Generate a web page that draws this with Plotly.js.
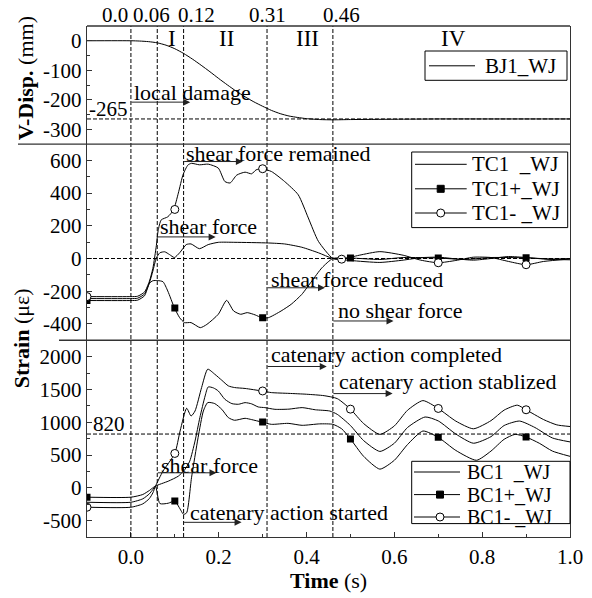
<!DOCTYPE html>
<html><head><meta charset="utf-8">
<script src="https://cdn.plot.ly/plotly-3.0.1.min.js"></script>
<style>html,body{margin:0;padding:0;background:#fff}#chart{width:592px;height:598px}</style>
</head><body><div id="chart"></div>
<script>
// ---------- data ----------
// Top panel: vertical displacement (mm)
const dispName = 'BJ1_WJ';
const dispX = [-0.1, 0.0, 0.02, 0.04, 0.06, 0.08, 0.10, 0.12, 0.14, 0.16, 0.18, 0.20, 0.22, 0.24, 0.26, 0.28, 0.30, 0.32, 0.34, 0.36, 0.38, 0.40, 0.43, 0.46, 0.50, 0.60, 0.70, 0.80, 0.90, 1.00];
const dispY = [0, 0, -1, -3, -7, -15, -27, -43, -62, -83, -105, -128, -150, -171, -190, -207, -222, -236, -247, -255, -260, -264, -267, -268, -267, -266, -265, -265, -265, -265];

// Middle panel: TC1 strains
const tcNames = ['TC1\u00a0\u00a0_WJ', 'TC1+_WJ', 'TC1-\u00a0_WJ'];
const tc1X = [-0.1, 0.0, 0.015, 0.031, 0.042, 0.05, 0.058, 0.066, 0.077, 0.088, 0.099, 0.111, 0.126, 0.137, 0.156, 0.176, 0.199, 0.237, 0.313, 0.35, 0.389, 0.427, 0.46, 0.5, 0.567, 0.62, 0.66, 0.70, 0.74, 0.78, 0.82, 0.86, 0.90, 0.95, 1.0];
const tc1Y = [-245, -245, -243, -217, -150, -77, 4, 35, 41, 24, 6, 35, 85, 89, 60, 85, 99, 99, 95, 89, 69, 35, 0, -12, -24, -10, 5, 8, -2, -10, 0, 12, 6, -5, -8];
const tc1pX = [-0.1, 0.0, 0.015, 0.031, 0.042, 0.05, 0.061, 0.073, 0.084, 0.099, 0.111, 0.122, 0.137, 0.158, 0.173, 0.199, 0.218, 0.234, 0.25, 0.265, 0.283, 0.298, 0.313, 0.342, 0.365, 0.389, 0.412, 0.435, 0.46, 0.5, 0.567, 0.62, 0.70, 0.76, 0.82, 0.90, 0.96, 1.0];
const tc1pY = [-257, -257, -255, -228, -152, -136, -135, -142, -199, -301, -362, -392, -392, -423, -403, -341, -256, -321, -341, -331, -345, -362, -362, -321, -280, -220, -138, -57, 0, 3, -6, 6, 3, -6, 6, 4, -3, 0];
const tc1mX = [-0.1, 0.0, 0.015, 0.031, 0.042, 0.05, 0.058, 0.062, 0.069, 0.084, 0.097, 0.108, 0.119, 0.13, 0.138, 0.156, 0.176, 0.199, 0.214, 0.226, 0.241, 0.26, 0.275, 0.285, 0.298, 0.32, 0.35, 0.381, 0.404, 0.427, 0.46, 0.48, 0.52, 0.567, 0.62, 0.66, 0.70, 0.74, 0.78, 0.82, 0.86, 0.90, 0.94, 1.0];
const tc1mY = [-233, -233, -231, -205, -140, -60, 80, 170, 236, 255, 297, 400, 515, 572, 582, 573, 577, 553, 471, 462, 510, 528, 518, 542, 549, 532, 471, 390, 248, 105, 0, -4, 20, 42, 20, -10, -26, -12, 8, 6, -18, -38, -18, -3];
const tc1pMarkX = [-0.1, 0.1, 0.3, 0.5, 0.7, 0.9];
const tc1pMarkY = [-257, -303, -362, 3, 3, 4];
const tc1mMarkX = [-0.1, 0.1, 0.3, 0.48, 0.7, 0.9];
const tc1mMarkY = [-233, 300, 549, -4, -26, -38];

// Bottom panel: BC1 strains
const bcNames = ['BC1\u00a0\u00a0_WJ', 'BC1+_WJ', 'BC1-\u00a0_WJ'];
const bc1X = [-0.1, 0.0, 0.027, 0.042, 0.05, 0.056, 0.085, 0.108, 0.123, 0.134, 0.146, 0.157, 0.169, 0.176, 0.188, 0.199, 0.214, 0.23, 0.245, 0.26, 0.275, 0.29, 0.305, 0.328, 0.36, 0.39, 0.42, 0.453, 0.47, 0.5, 0.53, 0.567, 0.6, 0.63, 0.67, 0.7, 0.74, 0.78, 0.82, 0.85, 0.885, 0.92, 0.96, 1.0];
const bc1Y = [-220, -220, -168, -92, -26, 25, 101, 178, 280, 407, 713, 1070, 1401, 1538, 1523, 1477, 1350, 1284, 1274, 1299, 1280, 1233, 1223, 1197, 1200, 1223, 1190, 1171, 1120, 950, 720, 555, 680, 920, 1080, 1020, 820, 680, 780, 950, 1018, 920, 760, 700];
const bc1pX = [-0.1, 0.0, 0.027, 0.042, 0.05, 0.056, 0.066, 0.085, 0.1, 0.11, 0.12, 0.127, 0.138, 0.153, 0.165, 0.175, 0.191, 0.207, 0.222, 0.236, 0.26, 0.275, 0.298, 0.32, 0.358, 0.39, 0.43, 0.46, 0.48, 0.5, 0.53, 0.567, 0.6, 0.63, 0.665, 0.7, 0.74, 0.787, 0.82, 0.85, 0.875, 0.9, 0.93, 0.96, 1.0];
const bc1pY = [-143, -143, -102, -41, 0, 25, -240, -235, -200, -300, -405, -380, 153, 765, 1171, 1300, 1284, 1197, 1070, 1030, 1060, 1040, 1003, 968, 983, 953, 975, 968, 900, 745, 480, 285, 420, 660, 866, 770, 570, 420, 560, 740, 815, 775, 680, 560, 480];
const bc1mX = [-0.1, 0.0, 0.027, 0.042, 0.05, 0.056, 0.073, 0.1, 0.112, 0.127, 0.137, 0.146, 0.161, 0.175, 0.191, 0.207, 0.222, 0.236, 0.26, 0.298, 0.32, 0.36, 0.4, 0.44, 0.47, 0.5, 0.53, 0.567, 0.6, 0.63, 0.665, 0.7, 0.74, 0.78, 0.82, 0.85, 0.88, 0.9, 0.94, 0.97, 1.0];
const bc1mY = [-296, -296, -245, -164, -76, 25, 254, 524, 866, 1213, 1095, 1171, 1529, 1809, 1732, 1640, 1554, 1529, 1515, 1477, 1452, 1440, 1427, 1405, 1360, 1200, 980, 815, 944, 1183, 1330, 1210, 1017, 900, 1024, 1185, 1260, 1190, 1040, 960, 935];
const bc1pMarkX = [-0.1, 0.1, 0.3, 0.5, 0.7, 0.9];
const bc1pMarkY = [-143, -200, 1003, 745, 770, 775];
const bc1mMarkX = [-0.1, 0.1, 0.3, 0.5, 0.7, 0.9];
const bc1mMarkY = [-296, 524, 1477, 1200, 1210, 1190];

// Phase boundaries, reference levels, tick labels
const phaseX = [0.0, 0.06, 0.12, 0.31, 0.46];
const phaseLabels = ['0.0', '0.06', '0.12', '0.31', '0.46', '1.0'];
const phaseLabelX = [-0.036, 0.048, 0.15, 0.312, 0.48, 1.012];
const stageNames = ['I', 'II', 'III', 'IV'];
const stageX = [0.094, 0.218, 0.403, 0.734];
const dispRef = -265;
const tcRef = 0;
const bcRef = 820;
const timeTicks = [0, 0.2, 0.4, 0.6, 0.8, 1.0];
const timeTickText = ['0.0', '0.2', '0.4', '0.6', '0.8', '1.0'];
const dispTicks = [-300, -200, -100, 0];
const dispTickText = ['-300', '-200', '-100', '0'];
const tcTicks = [-400, -200, 0, 200, 400, 600];
const tcTickText = ['-400', '-200', '0', '200', '400', '600'];
const bcTicks = [-500, 0, 500, 1000, 1500, 2000];
const bcTickText = ['-500', '0', '500', '1000', '1500', '2000'];

// ---------- drawing ----------
const FONT = 'Liberation Serif';
const lineStyle = {color: 'black', width: 1, shape: 'spline', smoothing: 0.6};
const sqMarker = {symbol: 'square', size: 7, color: 'black'};
const ciMarker = {symbol: 'circle', size: 8, color: 'white', line: {color: 'black', width: 1}};

function lineTr(x, y, ya, name) {
  return {x, y, name, xaxis: 'x', yaxis: ya, mode: 'lines', line: lineStyle, showlegend: false, hoverinfo: 'skip'};
}
function markTr(x, y, ya, m, name) {
  return {x, y, name, xaxis: 'x', yaxis: ya, mode: 'markers', marker: m, showlegend: false, hoverinfo: 'skip'};
}

const traces = [
  lineTr(dispX, dispY, 'y3', dispName),
  lineTr(tc1X, tc1Y, 'y2', tcNames[0]), lineTr(tc1pX, tc1pY, 'y2', tcNames[1]), lineTr(tc1mX, tc1mY, 'y2', tcNames[2]),
  markTr(tc1pMarkX, tc1pMarkY, 'y2', sqMarker, tcNames[1]), markTr(tc1mMarkX, tc1mMarkY, 'y2', ciMarker, tcNames[2]),
  lineTr(bc1X, bc1Y, 'y', bcNames[0]), lineTr(bc1pX, bc1pY, 'y', bcNames[1]), lineTr(bc1mX, bc1mY, 'y', bcNames[2]),
  markTr(bc1pMarkX, bc1pMarkY, 'y', sqMarker, bcNames[1]), markTr(bc1mMarkX, bc1mMarkY, 'y', ciMarker, bcNames[2])
];

const AX = '#333';
function yAx(domain, range, tv, tt, minorD) {
  return {domain, range, tickvals: tv, ticktext: tt, ticks: 'inside', ticklen: 5, tickcolor: AX,
    minor: {ticks: 'inside', ticklen: 3, dtick: minorD, tick0: 0, tickcolor: AX},
    showline: true, linecolor: AX, linewidth: 1.3, mirror: true, showgrid: false, zeroline: false,
    tickfont: {family: FONT, size: 21, color: 'black'}, anchor: 'x', fixedrange: true};
}

// pixel -> paper helpers for layout decorations
const PL = 87, PR = 570, PT = 25.7, PB = 536.7;
const px2x = p => (p - PL) / (PR - PL);
const py2y = p => (PB - p) / (PB - PT);

const D1 = 0.385, D2 = 0.769;
const shapes = [];
const ann = [];
phaseX.forEach(v => shapes.push({type: 'line', xref: 'x', yref: 'paper', x0: v, x1: v, y0: 0, y1: 1,
  line: {color: 'black', width: 1, dash: '4px,2px'}}));
[[dispRef, 'y3'], [tcRef, 'y2'], [bcRef, 'y']].forEach(([v, ya]) => shapes.push({type: 'line', xref: 'paper', yref: ya,
  x0: 0, x1: 1, y0: v, y1: v, line: {color: 'black', width: 1, dash: '4px,2px'}}));
shapes.push({type: 'line', xref: 'paper', yref: 'paper', x0: 0, x1: 1, y0: 1, y1: 1, line: {color: AX, width: 1.3}});
shapes.push({type: 'line', xref: 'paper', yref: 'paper', x0: px2x(18), x1: 1, y0: D2, y1: D2, line: {color: AX, width: 1.3}});
shapes.push({type: 'line', xref: 'paper', yref: 'paper', x0: px2x(59), x1: 1, y0: D1, y1: D1, line: {color: AX, width: 1.3}});

// legend boxes (drawn as layout decorations to match the reference box geometry)
function legendBox(box, lineX, markX, textX, rows, names, kinds, fsize) {
  shapes.push({type: 'rect', xref: 'paper', yref: 'paper', x0: px2x(box[0]), x1: px2x(box[1]),
    y0: py2y(box[3]), y1: py2y(box[2]), fillcolor: 'white', line: {color: 'black', width: 1}});
  rows.forEach((ry, i) => {
    shapes.push({type: 'line', xref: 'paper', yref: 'paper', x0: px2x(lineX[0]), x1: px2x(lineX[1]),
      y0: py2y(ry), y1: py2y(ry), line: {color: 'black', width: 1}});
    const k = kinds[i];
    if (k) {
      const half = k === 'sq' ? 3.5 : 4;
      shapes.push({type: k === 'sq' ? 'rect' : 'circle', xref: 'paper', yref: 'paper', xsizemode: 'pixel', ysizemode: 'pixel',
        xanchor: px2x(markX), yanchor: py2y(ry), x0: -half, x1: half, y0: -half, y1: half,
        fillcolor: k === 'sq' ? 'black' : 'white', line: {color: 'black', width: 1}});
    }
    ann.push({text: names[i], x: px2x(textX), y: py2y(ry), xref: 'paper', yref: 'paper', showarrow: false,
      xanchor: 'left', yanchor: 'middle', font: {family: FONT, size: fsize, color: 'black'}});
  });
}
legendBox([425, 567, 50.7, 80], [429, 475], 452, 483, [65.5], [dispName], [null], 21);
legendBox([411.7, 567.7, 151.7, 227.3], [415, 466.7], 440.7, 470, [164, 188.5, 212.7], tcNames, [null, 'sq', 'ci'], 21);
legendBox([411.7, 570, 461, 523.3], [414, 460], 440, 465, [471.7, 494.3, 516.7], bcNames, [null, 'sq', 'ci'], 20);

function txt(text, x, y, ya, opts) {
  ann.push(Object.assign({text, x, y, xref: 'x', yref: ya, showarrow: false, xanchor: 'center', yanchor: 'middle',
    font: {family: FONT, size: 22, color: 'black'}}, opts || {}));
}
function arrow(x0, x1, y, ya) {
  ann.push({text: ' ', x: x1, y, ax: x0, ay: y, xref: 'x', yref: ya, axref: 'x', ayref: ya,
    showarrow: true, arrowhead: 2, arrowsize: 1.4, arrowwidth: 1, arrowcolor: '#222', standoff: 0,
    borderpad: 0, font: {size: 1}});
}
// texts
txt('local damage', 0.14, -176, 'y3');
arrow(0.0, 0.135, -208, 'y3');
txt('shear force remained', 0.335, 645, 'y2');
arrow(0.12, 0.255, 593, 'y2');
txt('shear force', 0.177, 193, 'y2');
arrow(0.06, 0.193, 132, 'y2');
txt('shear force reduced', 0.516, -128, 'y2');
arrow(0.31, 0.442, -179, 'y2');
txt('no shear force', 0.613, -317, 'y2');
arrow(0.46, 0.598, -382, 'y2');
txt('catenary action completed', 0.581, 2027, 'y');
arrow(0.31, 0.446, 1850, 'y');
txt('catenary action stablized', 0.721, 1615, 'y');
arrow(0.46, 0.596, 1437, 'y');
txt('shear force', 0.179, 346, 'y');
arrow(0.06, 0.195, 229, 'y');
txt('catenary action started', 0.36, -382, 'y');
arrow(0.12, 0.252, -526, 'y');
txt(String(dispRef), -0.1, -230, 'y3', {xanchor: 'left', font: {family: FONT, size: 21, color: 'black'}});
txt(String(bcRef), -0.092, 978, 'y', {xanchor: 'left', font: {family: FONT, size: 21, color: 'black'}});
stageNames.forEach((s, i) => txt(s, stageX[i], 8, 'y3', {font: {family: FONT, size: 23, color: 'black'}}));
phaseLabels.forEach((s, i) => ann.push({text: s, x: phaseLabelX[i], y: py2y(15), xref: 'x', yref: 'paper', showarrow: false,
  xanchor: 'center', yanchor: 'middle', font: {family: FONT, size: 21, color: 'black'}}));
// axis titles
ann.push({text: '<b>V-Disp.</b> (mm)', x: px2x(25), y: py2y(78), xref: 'paper', yref: 'paper', textangle: -90, showarrow: false,
  xanchor: 'center', yanchor: 'middle', font: {family: FONT, size: 22, color: 'black'}});
ann.push({text: '<b>Strain</b> (\u03bc\u03b5)', x: px2x(21), y: py2y(338), xref: 'paper', yref: 'paper', textangle: -90, showarrow: false,
  xanchor: 'center', yanchor: 'middle', font: {family: FONT, size: 22, color: 'black'}});
ann.push({text: '<b>Time</b> (s)', x: 0.5, y: py2y(580), xref: 'paper', yref: 'paper', showarrow: false,
  xanchor: 'center', yanchor: 'middle', font: {family: FONT, size: 22, color: 'black'}});

const layout = {
  width: 592, height: 598,
  margin: {l: 87, r: 22, t: 26, b: 61},
  paper_bgcolor: 'white', plot_bgcolor: 'white',
  font: {family: FONT, color: 'black'},
  xaxis: {domain: [0, 1], range: [-0.1, 1.0], anchor: 'y', tickvals: timeTicks, ticktext: timeTickText,
    ticks: 'inside', ticklen: 5, tickcolor: AX,
    minor: {ticks: 'inside', ticklen: 3, dtick: 0.1, tick0: 0, tickcolor: AX},
    showline: true, linecolor: AX, linewidth: 1.3, showgrid: false, zeroline: false,
    tickfont: {family: FONT, size: 21, color: 'black'}, fixedrange: true},
  yaxis: yAx([0, D1], [-750, 2250], bcTicks, bcTickText, 250),
  yaxis2: yAx([D1, D2], [-500, 700], tcTicks, tcTickText, 100),
  yaxis3: yAx([D2, 1], [-350, 50], dispTicks, dispTickText, 50),
  showlegend: false,
  shapes, annotations: ann
};

Plotly.newPlot('chart', traces, layout, {displayModeBar: false, staticPlot: true});
</script>
</body></html>
